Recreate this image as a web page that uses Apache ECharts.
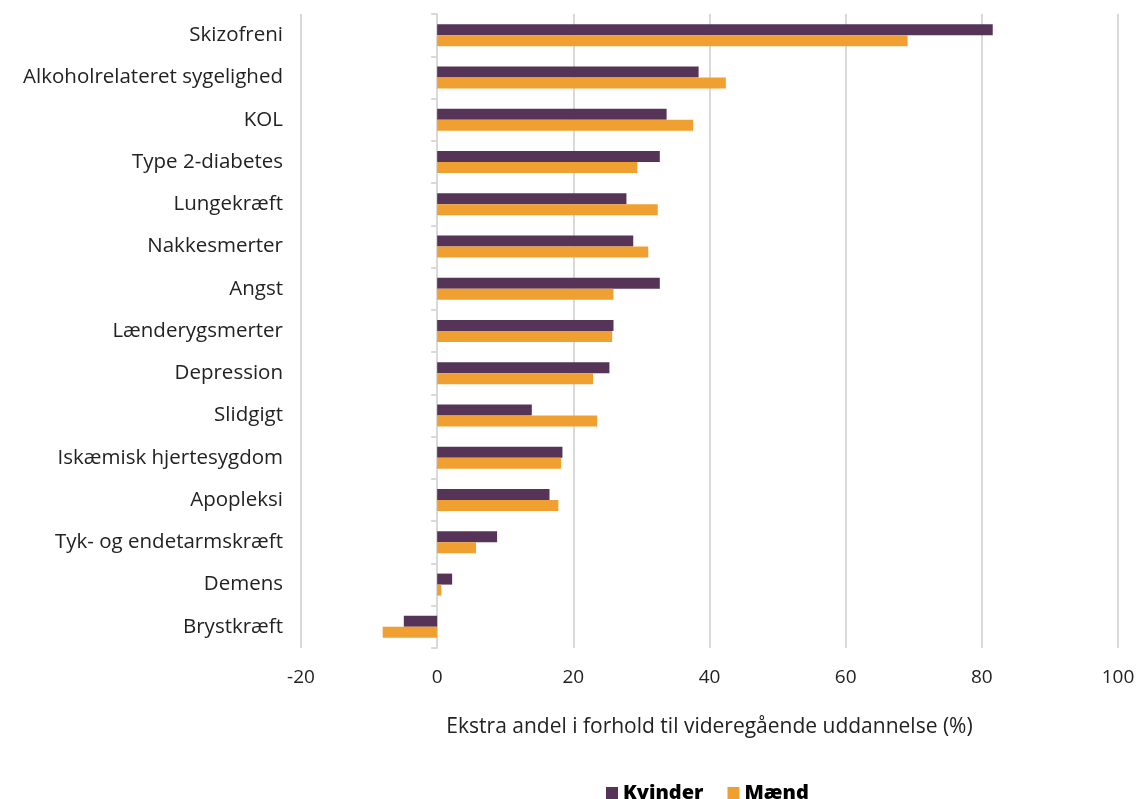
<!DOCTYPE html>
<html>
<head>
<meta charset="utf-8">
<title>Ekstra andel i forhold til videregående uddannelse</title>
<script src="https://cdn.jsdelivr.net/npm/echarts@6/dist/echarts.min.js"></script>
<style>
  html, body { margin: 0; padding: 0; background: #ffffff; }
  #chart { width: 1138px; height: 799px; }
</style>
</head>
<body>
<div id="chart"></div>
<script>
// Diagnoses, listed top to bottom
const categories = [
  'Skizofreni',
  'Alkoholrelateret sygelighed',
  'KOL',
  'Type 2-diabetes',
  'Lungekræft',
  'Nakkesmerter',
  'Angst',
  'Lænderygsmerter',
  'Depression',
  'Slidgigt',
  'Iskæmisk hjertesygdom',
  'Apopleksi',
  'Tyk- og endetarmskræft',
  'Demens',
  'Brystkræft'
];

// Extra share (%) compared with higher education
const kvinder = [81.6, 38.4, 33.7, 32.7, 27.8, 28.8, 32.7, 25.9, 25.3, 13.9, 18.4, 16.5, 8.8, 2.2, -4.9];
const maend   = [69.1, 42.4, 37.6, 29.4, 32.4, 31.0, 25.9, 25.7, 22.9, 23.5, 18.2, 17.8, 5.7, 0.6, -8.0];

const xTicks = [-20, 0, 20, 40, 60, 80, 100];
const xTitle = 'Ekstra andel i forhold til videregående uddannelse (%)';

const FONT = '"Open Sans", "Noto Sans", sans-serif';
const PURPLE = '#563457';
const ORANGE = '#F0A030';

const chart = echarts.init(document.getElementById('chart'), null, { renderer: 'canvas' });

chart.setOption({
  animation: false,
  backgroundColor: '#ffffff',
  grid: { left: 301, right: 20, top: 14, bottom: 151, containLabel: false },
  legend: {
    top: 778,
    left: 601,
    itemWidth: 12,
    itemHeight: 12,
    itemGap: 24,
    icon: 'rect',
    textStyle: { fontFamily: FONT, fontSize: 20, fontWeight: 800, color: '#000000' },
    data: ['Kvinder', 'Mænd']
  },
  xAxis: {
    type: 'value',
    min: xTicks[0],
    max: xTicks[xTicks.length - 1],
    interval: 20,
    name: xTitle,
    nameLocation: 'middle',
    nameGap: 69,
    nameTextStyle: { fontFamily: FONT, fontSize: 21, color: '#222222' },
    axisLine: { show: false },
    axisTick: { show: false },
    axisLabel: { fontFamily: FONT, fontSize: 19, color: '#222222', margin: 20 },
    splitLine: { show: true, lineStyle: { color: '#d9d9d9', width: 2 } }
  },
  yAxis: [
    {
      type: 'category',
      data: categories,
      inverse: true,
      position: 'left',
      axisLine: { show: false, onZero: false },
      axisTick: { show: false },
      axisLabel: { fontFamily: FONT, fontSize: 20.5, color: '#222222', margin: 18, padding: [5, 0, 0, 0] },
      splitLine: { show: false }
    },
    {
      // zero line with category ticks
      type: 'category',
      data: categories,
      inverse: true,
      position: 'left',
      axisLine: { show: true, onZero: true, lineStyle: { color: '#d9d9d9', width: 2 } },
      axisTick: { show: true, length: 6, lineStyle: { color: '#d9d9d9', width: 2 } },
      axisLabel: { show: false },
      splitLine: { show: false }
    }
  ],
  series: [
    {
      name: 'Kvinder',
      type: 'bar',
      yAxisIndex: 0,
      data: kvinder,
      barWidth: 11,
      barGap: '0%',
      itemStyle: { color: PURPLE },
      z: 3
    },
    {
      name: 'Mænd',
      type: 'bar',
      yAxisIndex: 0,
      data: maend,
      barWidth: 11,
      barGap: '0%',
      itemStyle: { color: ORANGE },
      z: 3
    }
  ]
});
</script>
</body>
</html>
